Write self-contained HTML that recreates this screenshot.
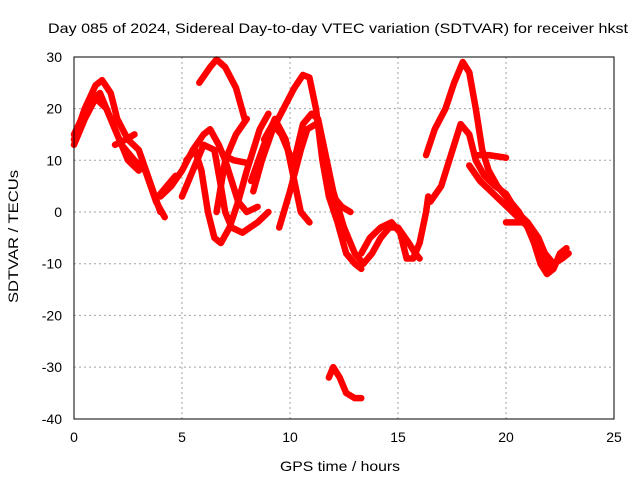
<!DOCTYPE html>
<html><head><meta charset="utf-8"><style>
body{margin:0;background:#fff}
svg{display:block;font-family:"Liberation Sans",sans-serif}
</style></head><body>
<svg id="c" width="640" height="480">
<rect width="640" height="480" fill="#fff"/>
<text x="48" y="33" font-size="14" textLength="580" lengthAdjust="spacingAndGlyphs">Day 085 of 2024, Sidereal Day-to-day VTEC variation (SDTVAR) for receiver hkst</text>
<text x="280" y="471" font-size="14" textLength="120" lengthAdjust="spacingAndGlyphs">GPS time / hours</text>
<text transform="translate(18,303) rotate(-90)" font-size="14" textLength="133" lengthAdjust="spacingAndGlyphs">SDTVAR / TECUs</text>
<g id="grid"></g><g id="data"></g>
<rect x="74" y="57" width="540" height="362" fill="none" stroke="#000" stroke-width="1"/>
</svg>
<script>
const xTicks=[0,5,10,15,20,25];
const yTicks=[30,20,10,0,-10,-20,-30,-40];
const tA=[0,0.5,1,1.3,1.7,2,2.5,3,3.5,4];
const vA=[14,20,24.5,25.5,23,18,14,12,6,0];
const tB=[0,0.5,1,1.5,2,2.5,3];
const vB=[13,18,22,20,15,10,8];
const tC=[0,0.7,1.2,1.8,2.2,2.8,3.3,3.8,4.2];
const vC=[15,21,23,17,13,10,8,2,-1];
const tD=[4,4.5,5,5.5,6,6.3,6.7,7,7.3,7.6,8,8.5];
const vD=[3,5,8,12,15,16,13,10,6,2,0,1];
const tE=[5,5.3,5.7,6,6.5,6.8,7,7.3,7.8,8.5,9];
const vE=[3,6,10,13,12,5,0,-3,-4,-2,0];
const tF=[5.2,5.6,5.9,6.2,6.5,6.8,7.2,7.6,8,8.3,8.6,9];
const vF=[10,12,8,0,-5,-6,-3,2,8,12,16,19];
const tG=[5.8,6.3,6.6,7,7.5,7.9];
const vG=[25,28,29.5,28,24,18];
const tH=[6.6,7,7.5,8];
const vH=[0,10,15,18];
const tI=[8.3,8.7,9.2,9.7,10.2,10.6,10.9,11.2,11.5,11.8,12.2,12.6,13,13.3];
const vI=[4,10,16,20,24,26.5,26,20,10,3,-2,-8,-10,-11];
const tJ=[8.2,8.8,9.3,9.8,10.2,10.5,10.9];
const vJ=[6,13,18,14,6,0,-2];
const tK=[10.2,10.6,11,11.3,11.6,12,12.5,13,13.4,13.8,14.2,14.6,15,15.5,15.8,16];
const vK=[10,17,19,18,12,4,-3,-8,-10,-8,-5,-3,-3,-6,-8,-9];
const tL=[9.5,10,10.5,10.8,11.2];
const vL=[-3,4,12,16,17];
const tM=[11.8,12,12.3,12.6,13,13.3];
const vM=[-32,-30,-32,-35,-36,-36];
const tN=[13.3,13.7,14.2,14.7,15.1,15.4,15.7,16,16.3,16.4];
const vN=[-8,-5,-3,-2,-4,-9,-9,-6,0,3];
const tO=[16.3,16.7,17.2,17.6,18,18.3,18.6,18.9,19.2,19.6,20,20.6,21,21.3,21.6,21.9,22.2,22.5,22.8];
const vO=[11,16,20,25,29,27,20,12,8,5,3,0,-3,-6,-10,-12,-11,-8,-7];
const tP=[16.5,17,17.6,17.9,18.3,18.6,19,19.5,20,20.5,21,21.5,21.8,22.2,22.6,22.9];
const vP=[2,5,13,17,15,10,7,5,3.5,0,-2,-5,-8,-10,-9,-8];
const tQ=[18.3,18.8,19.3,19.8,20.3,20.8,21.3,21.7,22];
const vQ=[9,6,4,2,0,-2,-4,-8,-11];
const tR=[18.6,19.2,20];
const vR=[11,11,10.5];
const tS=[20,20.5,21];
const vS=[-2,-2,-2];
const tT=[6.9,7.4,8];
const vT=[11,10,9.5];
const tU=[1.9,2.4,2.8];
const vU=[13,14,15];
const tV=[3.9,4.3,4.7];
const vV=[3,5,7];
const tW=[8.8,9.2,9.6,10.1];
const vW=[14,17,15,10];
const tZ=[12,12.4,12.8];
const vZ=[3,1,0];
const tracks=[[tA,vA],[tB,vB],[tC,vC],[tD,vD],[tE,vE],[tF,vF],[tG,vG],[tH,vH],[tI,vI],[tJ,vJ],[tK,vK],[tL,vL],[tM,vM],[tN,vN],[tO,vO],[tP,vP],[tQ,vQ],[tR,vR],[tS,vS],[tT,vT],[tU,vU],[tV,vV],[tW,vW],[tZ,vZ]];
const X=t=>74+t*21.6, Y=v=>212-v*5.1714;
const NS='http://www.w3.org/2000/svg';
const g=document.getElementById('grid'), d=document.getElementById('data');
xTicks.forEach(t=>{
 const x=X(t);
 if(t>0&&t<25){const l=document.createElementNS(NS,'line');
 l.setAttribute('x1',x);l.setAttribute('x2',x);l.setAttribute('y1',57);l.setAttribute('y2',419);
 l.setAttribute('stroke','#a0a0a0');l.setAttribute('stroke-dasharray','2,3');
 
 g.appendChild(l);}
 const tx=document.createElementNS(NS,'text');
 tx.setAttribute('x',x);tx.setAttribute('y',442);tx.setAttribute('font-size','14');tx.setAttribute('text-anchor','middle');
 tx.textContent=t;
 
 g.appendChild(tx);
});
yTicks.forEach(v=>{
 const y=Y(v);
 if(v<30&&v>-40){const l=document.createElementNS(NS,'line');
 l.setAttribute('x1',74);l.setAttribute('x2',614);l.setAttribute('y1',y);l.setAttribute('y2',y);
 l.setAttribute('stroke','#a0a0a0');l.setAttribute('stroke-dasharray','2,3');
 
 g.appendChild(l);}
 const tx=document.createElementNS(NS,'text');
 tx.setAttribute('x',62);tx.setAttribute('y',y+5);tx.setAttribute('font-size','14');tx.setAttribute('text-anchor','end');
 tx.textContent=v;
 
 g.appendChild(tx);
});
tracks.forEach(([ts,vs])=>{
 const p=document.createElementNS(NS,'polyline');
 p.setAttribute('points',ts.map((t,i)=>X(t)+','+Y(vs[i])).join(' '));
 p.setAttribute('fill','none');p.setAttribute('stroke','#ff0000');p.setAttribute('stroke-width','6.5');
 p.setAttribute('stroke-linejoin','round');p.setAttribute('stroke-linecap','round');
 
 d.appendChild(p);
});
</script>
</body></html>
